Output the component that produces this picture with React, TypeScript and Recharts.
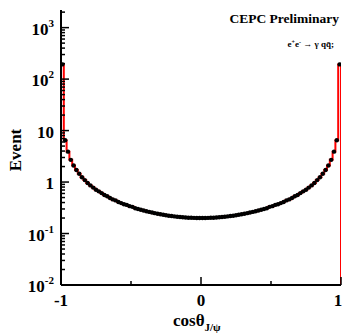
import { ComposedChart, Line, Scatter, XAxis, YAxis } from "recharts"

// histogram binning of cos(theta_J/psi)
const N_BINS = 100
const X_MIN = -1
const X_MAX = 1

// entries per bin (left to right)
const counts = [
  193, 6.5, 3.9, 2.7, 2.1, 1.72, 1.45, 1.24, 1.09, 0.96,
  0.86, 0.78, 0.71, 0.66, 0.61, 0.56, 0.53, 0.49, 0.46, 0.44,
  0.41, 0.39, 0.37, 0.36, 0.34, 0.33, 0.31, 0.3, 0.29, 0.28,
  0.27, 0.263, 0.256, 0.249, 0.243, 0.237, 0.232, 0.227, 0.222, 0.219,
  0.215, 0.212, 0.209, 0.207, 0.205, 0.203, 0.202, 0.201, 0.2, 0.2,
  0.2, 0.2, 0.201, 0.202, 0.203, 0.205, 0.207, 0.209, 0.212, 0.215,
  0.219, 0.222, 0.227, 0.232, 0.237, 0.243, 0.249, 0.256, 0.263, 0.27,
  0.28, 0.29, 0.3, 0.31, 0.33, 0.34, 0.36, 0.37, 0.39, 0.41,
  0.44, 0.46, 0.49, 0.53, 0.56, 0.61, 0.66, 0.71, 0.78, 0.86,
  0.96, 1.09, 1.24, 1.45, 1.72, 2.1, 2.7, 3.9, 6.5, 193,
]

const xTicks = [-1, -0.5, 0, 0.5, 1]
const xLabels = ["-1", "", "0", "", "1"]
const yDecades = [0.01, 0.1, 1, 10, 100, 1000]
const yMinorSteps = [2, 3, 4, 5, 6, 7, 8, 9]
const Y_MIN = 0.01
const Y_MAX = 2200

const yTicks = yDecades.flatMap((d) => [d, ...yMinorSteps.map((k) => d * k)]).filter((v) => v <= Y_MAX)

const binWidth = (X_MAX - X_MIN) / N_BINS
const points = counts.map((c, i) => ({ x: X_MIN + (i + 0.5) * binWidth, y: c }))
const outline = [
  { x: X_MIN, y: Y_MIN },
  ...counts.map((c, i) => ({ x: X_MIN + i * binWidth, y: c })),
  { x: X_MAX, y: Y_MIN },
]

const W = 343
const H = 333
const PLOT_LEFT = 61
const PLOT_BOTTOM = 285
const FONT = "'Liberation Serif', 'Times New Roman', serif"

function YTick({ y, payload }: any) {
  const v = payload.value
  const lg = Math.log10(v)
  const exp = Math.round(lg)
  const major = Math.abs(lg - exp) < 1e-6
  return (
    <g>
      <line x1={PLOT_LEFT} x2={PLOT_LEFT + (major ? 8 : 4)} y1={y} y2={y} stroke="#000" strokeWidth={1.5} />
      {major && (
        <text x={54} y={y + 7} textAnchor="end" fontFamily={FONT} fontWeight="bold" fontSize={17} fill="#000">
          {exp === 0 ? "1" : exp === 1 ? "10" : (
            <>
              10
              <tspan dy={-8} fontSize={11}>{exp}</tspan>
            </>
          )}
        </text>
      )}
    </g>
  )
}

function XTick({ x, payload, index }: any) {
  const major = Number.isInteger(payload.value)
  // keep the last label inside the picture, as in the reference it sits on the edge
  const lx = index === xTicks.length - 1 ? x - 3 : x
  return (
    <g>
      <line x1={x} x2={x} y1={PLOT_BOTTOM} y2={PLOT_BOTTOM - (major ? 8 : 4)} stroke="#000" strokeWidth={1.5} />
      <text x={lx} y={306} textAnchor="middle" fontFamily={FONT} fontWeight="bold" fontSize={17} fill="#000">
        {xLabels[index]}
      </text>
    </g>
  )
}

export default function App() {
  return (
    <div style={{ position: "absolute", left: 0, top: 0, width: W, height: H, background: "#fff" }}>
      <ComposedChart width={W} height={H} margin={{ top: 10, right: 2, bottom: 0, left: 0 }}>
        <XAxis
          dataKey="x"
          type="number"
          domain={[X_MIN, X_MAX]}
          ticks={xTicks}
          interval={0}
          height={48}
          tickLine={false}
          tick={(p: any) => <XTick {...p} />}
          axisLine={{ stroke: "#000", strokeWidth: 2 }}
          allowDataOverflow
        />
        <XAxis
          xAxisId="top"
          orientation="top"
          type="number"
          domain={[X_MIN, X_MAX]}
          height={0}
          tick={false}
          tickLine={false}
          axisLine={{ stroke: "#000", strokeWidth: 2 }}
          allowDataOverflow
        />
        <YAxis
          dataKey="y"
          scale="log"
          type="number"
          domain={[Y_MIN, Y_MAX]}
          ticks={yTicks}
          interval={0}
          width={PLOT_LEFT}
          tickLine={false}
          tick={(p: any) => <YTick {...p} />}
          axisLine={{ stroke: "#000", strokeWidth: 2 }}
          allowDataOverflow
        />
        <YAxis
          yAxisId="right"
          orientation="right"
          type="number"
          domain={[0, 1]}
          width={0}
          tick={false}
          tickLine={false}
          axisLine={{ stroke: "#000", strokeWidth: 2 }}
        />
        <Line
          data={outline}
          dataKey="y"
          type="stepAfter"
          stroke="#ff0000"
          strokeWidth={2}
          dot={false}
          activeDot={false}
          isAnimationActive={false}
        />
        <Scatter
          data={points}
          dataKey="y"
          fill="#000"
          shape={(p: any) => <circle cx={p.cx} cy={p.cy} r={2.2} fill="#000" />}
          isAnimationActive={false}
        />
      </ComposedChart>
      <svg width={W} height={H} style={{ position: "absolute", left: 0, top: 0, pointerEvents: "none" }}>
        <text x={339} y={23} textAnchor="end" fontFamily={FONT} fontWeight="bold" fontSize={13.5} fill="#000">
          CEPC Preliminary
        </text>
        <text x={334} y={47} textAnchor="end" fontFamily={FONT} fontWeight="bold" fontSize={9} fill="#000">
          e<tspan dy={-3} fontSize={6}>+</tspan>
          <tspan dy={3}>e</tspan>
          <tspan dy={-3} fontSize={6}>-</tspan>
          <tspan dy={3}>{"  \u2192  \u03b3 qq\u0304;"}</tspan>
        </text>
        <text
          x={21}
          y={150}
          textAnchor="middle"
          transform="rotate(-90, 21, 150)"
          fontFamily={FONT}
          fontWeight="bold"
          fontSize={17}
          fill="#000"
        >
          Event
        </text>
        <text x={173} y={326} fontFamily={FONT} fontWeight="bold" fontSize={17} fill="#000">
          {"cos\u03b8"}
          <tspan dy={5} fontSize={11}>{"J/\u03c8"}</tspan>
        </text>
      </svg>
    </div>
  )
}
